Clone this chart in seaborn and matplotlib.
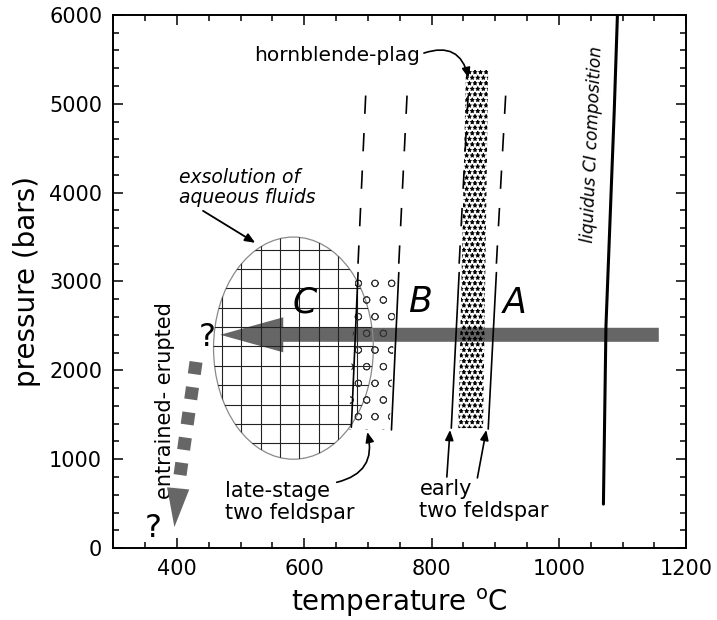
import numpy as np
import matplotlib
matplotlib.use("Agg")
import matplotlib.pyplot as plt
import seaborn as sns
from matplotlib.patches import Ellipse, Polygon
from matplotlib.ticker import MultipleLocator

# ---------------- data ----------------
x_limits = [300, 1200]
y_limits = [0, 6000]
x_major_ticks = [400, 600, 800, 1000, 1200]
y_major_ticks = [0, 1000, 2000, 3000, 4000, 5000, 6000]

# liquidus of CI composition
liquidus_T = [1070, 1074, 1087, 1092]
liquidus_P = [495, 2500, 4920, 6000]

# four slanted field boundaries (top / bottom ends)
boundary_T_top = [697, 762, 858, 917]
boundary_T_bottom = [674, 737, 831, 889]
boundary_P_top = [5170, 5170, 5170, 5170]
boundary_P_bottom = [1360, 1330, 1350, 1340]
boundary_P_dash_end = 3100          # dashed above, solid below

# late-stage two feldspar (dotted) band
dotted_P = [1330, 3050]
# hornblende-plag band (speckled)
hbl_T_left = [842, 854]     # bottom, top
hbl_T_right = [881, 889]
hbl_P = [1350, 5380]

# exsolution of aqueous fluids (ellipse)
exsol_T_center, exsol_P_center = 583, 2250
exsol_T_width, exsol_P_height = 251, 2500

# big cooling arrow
arrow_T_tail, arrow_T_tip, arrow_P = 1157, 468, 2400
# entrained-erupted arrow
erupt_T = [430, 402, 396]
erupt_P = [2095, 676, 236]

field_labels = ["C", "B", "A"]
field_label_T = [600, 782, 931]
field_label_P = [2760, 2770, 2760]

# ---------------- style ----------------
sns.set_style("ticks")
plt.rcParams["font.family"] = ["DejaVu Sans"]
plt.rcParams["hatch.linewidth"] = 0.6
for key in ["text.color", "axes.labelcolor", "xtick.color", "ytick.color",
            "axes.edgecolor"]:
    plt.rcParams[key] = "black"

fig = plt.figure(figsize=(7.17, 6.2), dpi=100)
ax = fig.add_axes([0.158, 0.116, 0.799, 0.860])
ax.set_xlim(*x_limits)
ax.set_ylim(*y_limits)

GRAY = "#666666"

# ellipse with square grid
ell = Ellipse((exsol_T_center, exsol_P_center), exsol_T_width, exsol_P_height,
              facecolor="none", edgecolor="#8a8a8a", lw=0.9, zorder=3)
ax.add_patch(ell)
gx = np.arange(exsol_T_center - 112, exsol_T_center + 130, 30.3)
gy = np.arange(exsol_P_center + 1109, exsol_P_center - 1300, -218)
for xv in gx:
    ln, = ax.plot([xv, xv], [exsol_P_center - 1300, exsol_P_center + 1300],
                  color="#222222", lw=0.8, zorder=3)
    ln.set_clip_path(ell)
for yv in gy:
    ln, = ax.plot([exsol_T_center - 140, exsol_T_center + 140], [yv, yv],
                  color="#222222", lw=0.8, zorder=3)
    ln.set_clip_path(ell)

# big horizontal arrow (drawn beneath the textures)
ax.arrow(arrow_T_tail, arrow_P, arrow_T_tip - arrow_T_tail, 0, width=158,
         head_width=394, head_length=99, length_includes_head=True,
         color=GRAY, lw=0, zorder=2)

# boundary lines
def x_at(i, p):
    t = (p - boundary_P_bottom[i]) / (boundary_P_top[i] - boundary_P_bottom[i])
    return boundary_T_bottom[i] + t * (boundary_T_top[i] - boundary_T_bottom[i])

for i in range(4):
    xm = x_at(i, boundary_P_dash_end)
    ax.plot([boundary_T_bottom[i], xm], [boundary_P_bottom[i], boundary_P_dash_end],
            color="black", lw=1.2, zorder=4)
    ax.plot([xm, boundary_T_top[i]], [boundary_P_dash_end + 100, boundary_P_top[i]],
            color="black", lw=1.2, dashes=(11, 11.5), zorder=4)

# dotted band between boundaries 1 and 2
dot_poly = [(x_at(0, dotted_P[0]) - 4, dotted_P[0]), (x_at(1, dotted_P[0]) - 3, dotted_P[0]),
            (x_at(1, dotted_P[1]) - 3, dotted_P[1]), (x_at(0, dotted_P[1]) - 4, dotted_P[1])]
ax.add_patch(Polygon(dot_poly, closed=True, fill=False, hatch="o",
                     edgecolor="#333333", lw=0, zorder=3))

# speckled hornblende-plag band
hbl_poly = [(hbl_T_left[0], hbl_P[0]), (hbl_T_right[0], hbl_P[0]),
            (hbl_T_right[1], hbl_P[1]), (hbl_T_left[1], hbl_P[1])]
ax.add_patch(Polygon(hbl_poly, closed=True, fill=False, hatch="***",
                     edgecolor="black", lw=0, zorder=3))

# liquidus
sns.lineplot(x=liquidus_T, y=liquidus_P, sort=False, color="black", lw=2.2,
             ax=ax, zorder=4)

# entrained-erupted dashed arrow
ax.plot(erupt_T[:2], erupt_P[:2], color=GRAY, lw=9.4, dashes=(0.95, 1.0),
        solid_capstyle="butt", dash_capstyle="butt", zorder=4)
ax.annotate("", xy=(erupt_T[2], erupt_P[2]), xytext=(erupt_T[1], erupt_P[1]),
            arrowprops=dict(arrowstyle="-|>,head_length=1.4,head_width=0.4",
                            mutation_scale=20, color=GRAY, lw=0,
                            shrinkA=0, shrinkB=0), zorder=4)

# field letters
for lab, t, p in zip(field_labels, field_label_T, field_label_P):
    ax.text(t, p, lab, fontsize=25, style="italic", ha="center", va="center", zorder=5)

# question marks
ax.text(448, 2365, "?", fontsize=23, ha="center", va="center", zorder=5)
ax.text(363, 225, "?", fontsize=23, ha="center", va="center", zorder=5)

# annotations
ax.text(782, 5540, "hornblende-plag", fontsize=14.5, ha="right", va="center")
ax.annotate("", xy=(858, 5290), xytext=(788, 5570),
            arrowprops=dict(arrowstyle="-|>,head_length=0.6,head_width=0.25",
                            connectionstyle="arc3,rad=-0.55", color="black", lw=1.2,
                            shrinkA=0, shrinkB=0))

ax.text(404, 4055, "exsolution of\naqueous fluids", fontsize=13.5, style="italic",
        ha="left", va="center", linespacing=1.1)
ax.annotate("", xy=(523, 3435), xytext=(441, 3795),
            arrowprops=dict(arrowstyle="-|>,head_length=0.6,head_width=0.25",
                            color="black", lw=1.3, shrinkA=0, shrinkB=0))

ax.text(382, 1655, "entrained- erupted", fontsize=15, rotation=90,
        ha="center", va="center")

ax.text(476, 518, "late-stage\ntwo feldspar", fontsize=15, ha="left", va="center",
        linespacing=1.15)
ax.annotate("", xy=(699, 1306), xytext=(651, 740),
            arrowprops=dict(arrowstyle="-|>,head_length=0.6,head_width=0.25",
                            connectionstyle="arc3,rad=0.5", color="black", lw=1.2,
                            shrinkA=0, shrinkB=0))

ax.text(781, 540, "early\ntwo feldspar", fontsize=15, ha="left", va="center",
        linespacing=1.15)
ax.annotate("", xy=(829, 1329), xytext=(824, 800),
            arrowprops=dict(arrowstyle="-|>,head_length=0.6,head_width=0.25",
                            color="black", lw=1.2, shrinkA=0, shrinkB=0))
ax.annotate("", xy=(886, 1329), xytext=(872, 790),
            arrowprops=dict(arrowstyle="-|>,head_length=0.6,head_width=0.25",
                            color="black", lw=1.2, shrinkA=0, shrinkB=0))

ax.text(1052, 4540, "liquidus CI composition", fontsize=12.2, style="italic",
        rotation=87.5, ha="center", va="center")

# axes styling
ax.set_xticks(x_major_ticks)
ax.set_yticks(y_major_ticks)
ax.xaxis.set_minor_locator(MultipleLocator(50))
ax.yaxis.set_minor_locator(MultipleLocator(200))
ax.tick_params(which="both", direction="in", top=True, right=True, width=1.1,
               labelsize=15, pad=8, colors="black")
ax.tick_params(which="major", length=7.2)
ax.tick_params(which="minor", length=4.3)
for s in ax.spines.values():
    s.set_linewidth(1.4)
    s.set_color("black")
ax.set_xlabel("temperature $^{\\mathrm{o}}$C", fontsize=20, labelpad=5)
ax.set_ylabel("pressure (bars)", fontsize=20, labelpad=6)

fig.savefig("out.png", dpi=100)
